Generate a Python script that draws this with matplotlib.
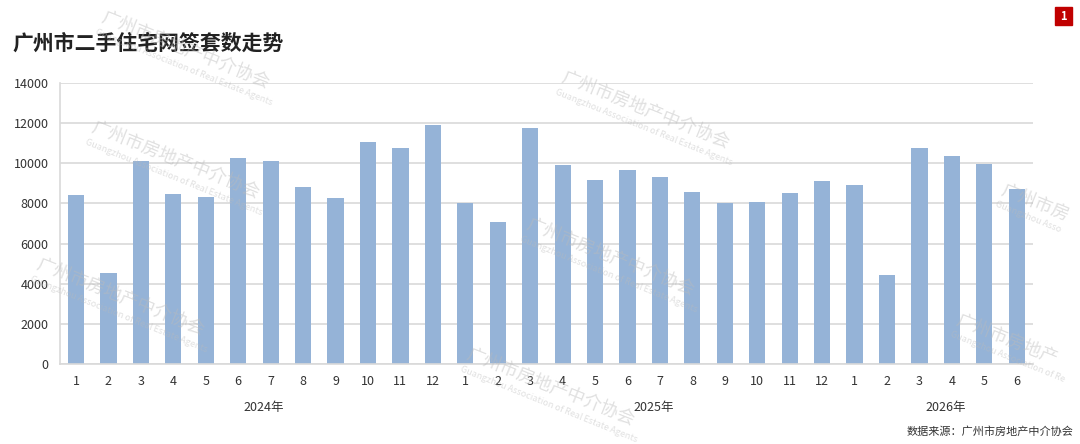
import numpy as np
import matplotlib
matplotlib.use('Agg')
from matplotlib import pyplot as plt
from matplotlib.patches import Rectangle

plt.rcParams['font.family'] = ['Noto Sans CJK SC', 'DejaVu Sans']

years = ['2024年', '2025年', '2026年']
months_2024 = [str(m) for m in range(1, 13)]
months_2025 = [str(m) for m in range(1, 13)]
months_2026 = [str(m) for m in range(1, 7)]
deals_2024 = [8400, 4520, 10090, 8450, 8320, 10260, 10130, 8830, 8270, 11070, 10770, 11880]
deals_2025 = [8000, 7060, 11750, 9910, 9180, 9650, 9310, 8570, 8000, 8050, 8520, 9130]
deals_2026 = [8920, 4440, 10770, 10370, 9980, 8700]

labels = months_2024 + months_2025 + months_2026
values = deals_2024 + deals_2025 + deals_2026
groups = [len(months_2024), len(months_2025), len(months_2026)]
x = np.arange(len(values))

fig = plt.figure(figsize=(10.8, 4.44), dpi=100)
ax = fig.add_axes([59.8 / 1080, 1 - 364.3 / 444, (1033 - 59.8) / 1080, (364.3 - 82.7) / 444])

ax.bar(x, values, width=0.5, color='#95B3D7', zorder=2)
ax.set_xlim(-0.5, len(values) - 0.5)
ax.set_ylim(0, 14000)
ax.set_yticks(np.arange(0, 14001, 2000))
ax.yaxis.grid(True, color='#D9D9D9', linewidth=1.2, zorder=0)
ax.set_xticks(x)
ax.set_xticklabels(labels)
ax.tick_params(axis='both', length=0, labelsize=9, colors='#333333')
ax.tick_params(axis='x', pad=8)
ax.tick_params(axis='y', pad=8)
for side in ['top', 'right']:
    ax.spines[side].set_visible(False)
ax.spines['left'].set_color('#D9D9D9')
ax.spines['bottom'].set_color('#D9D9D9')
ax.spines['left'].set_linewidth(1.2)
ax.spines['bottom'].set_linewidth(1.2)

# year labels under month ticks
start = 0
for year, n in zip(years, groups):
    center = start + (n - 1) / 2 + 0.3
    ax.text(center, -0.152, year, transform=ax.get_xaxis_transform(),
            ha='center', va='center', fontsize=9, color='#333333')
    start += n

# title
fig.text(12 / 1080, 1 - 43 / 444, '广州市二手住宅网签套数走势', fontsize=15,
         fontweight='bold', color='#222222', va='center', ha='left')

# page number box
fig.patches.append(Rectangle((1055 / 1080, 1 - 25 / 444), 17 / 1080, 18 / 444,
                             transform=fig.transFigure, color='#C00000'))
fig.text(1063.5 / 1080, 1 - 16 / 444, '1', color='white', fontsize=8,
         fontweight='bold', ha='center', va='center')

# source
fig.text(1073 / 1080, 1 - 432 / 444, '数据来源：广州市房地产中介协会', fontsize=8,
         color='#333333', ha='right', va='center')

# watermarks (the ones at the right edge only show their visible part)
cn_mark = '广州市房地产中介协会'
en_mark = 'Guangzhou Association of Real Estate Agents'
marks = [(95, 118, cn_mark, en_mark), (565, 68, cn_mark, en_mark),
         (40, 255, cn_mark, en_mark), (530, 215, cn_mark, en_mark),
         (470, 345, cn_mark, en_mark), (105, 8, cn_mark, en_mark),
         (960, 310, '广州市房地产', 'Guangzhou Association of Re'),
         (1005, 180, '广州市房', 'Guangzhou Asso')]
for px, py, cn, en in marks:
    fig.text(px / 1080, 1 - py / 444, cn, fontsize=13, color='#BBBBBB',
             alpha=0.45, rotation=-22, rotation_mode='anchor', ha='left', va='top')
    fig.text((px - 8) / 1080, 1 - (py + 20) / 444, en,
             fontsize=6.5, color='#BBBBBB', alpha=0.45, rotation=-22,
             rotation_mode='anchor', ha='left', va='top')

fig.savefig('out.png', dpi=100)
